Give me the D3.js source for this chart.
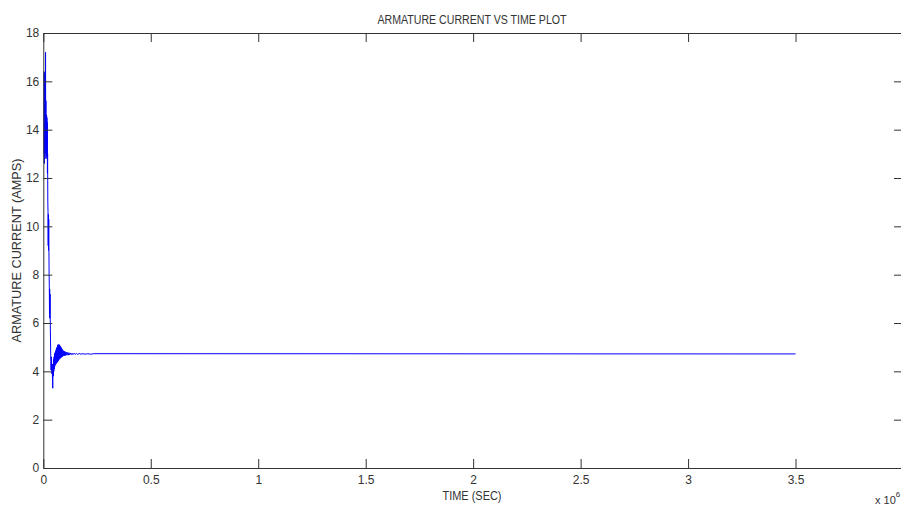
<!DOCTYPE html>
<html>
<head>
<meta charset="utf-8">
<script src="https://cdn.jsdelivr.net/npm/d3@7"></script>
<style>
  body { margin: 0; background: #fff; }
  svg { display: block; }
  text { font-family: "Liberation Sans Narrow", "Liberation Sans", Arial, sans-serif; fill: #333; }
</style>
</head>
<body>
<div id="chart"></div>
<script>
// time in units of 1e6 (as on the x axis), current in amps
const timeVals = [
  0.003, 0.004, 0.0048, 0.0056, 0.0064, 0.0072, 0.008, 0.0088, 0.0096, 0.0105,
  0.0112, 0.012, 0.0128, 0.0136, 0.0144, 0.0152, 0.016, 0.0168, 0.0176, 0.0184,
  0.0192, 0.020, 0.021, 0.022, 0.0228, 0.0236, 0.0244, 0.0252, 0.026, 0.027,
  0.028, 0.0288, 0.0296, 0.0304, 0.0312, 0.032, 0.0335, 0.035, 0.036, 0.038,
  0.040, 0.0415, 0.043, 0.044, 0.0455, 0.047, 0.048, 0.049, 0.050, 0.051,
  0.052, 0.053, 0.054, 0.055, 0.056, 0.057, 0.058, 0.059, 0.060, 0.061,
  0.062, 0.063, 0.064, 0.065, 0.066, 0.067, 0.068, 0.069, 0.070, 0.071,
  0.072, 0.073, 0.074, 0.075, 0.076, 0.077, 0.078, 0.079, 0.080, 0.081,
  0.082, 0.083, 0.084, 0.085, 0.086, 0.087, 0.088, 0.089, 0.090, 0.092,
  0.094, 0.096, 0.098, 0.100, 0.102, 0.104, 0.107, 0.110, 0.113, 0.116,
  0.119, 0.122, 0.126, 0.130, 0.134, 0.138, 0.143, 0.148, 0.154, 0.160,
  0.167, 0.175, 0.185, 0.195, 0.207, 0.22, 0.235, 3.5
]
const currentVals = [
  13.0, 16.4, 12.6, 16.3, 12.8, 16.2, 13.0, 16.0, 13.2, 17.2,
  13.4, 15.2, 12.8, 14.6, 12.9, 14.6, 13.0, 14.5, 13.0, 14.3,
  12.2, 13.0, 11.0, 10.6, 9.2, 10.5, 9.0, 10.3, 9.2, 8.0,
  7.5, 6.4, 7.4, 6.2, 7.2, 6.3, 5.3, 4.4, 4.05, 4.6,
  3.9, 4.3, 3.6, 3.3, 4.3, 3.8, 4.5, 4.0, 4.6, 4.1,
  4.7, 4.2, 4.75, 4.25, 4.8, 4.3, 4.85, 4.3, 4.9, 4.35,
  4.95, 4.35, 5.0, 4.4, 5.05, 4.4, 5.1, 4.45, 5.1, 4.45,
  5.1, 4.5, 5.1, 4.5, 5.08, 4.52, 5.05, 4.55, 5.02, 4.55,
  5.0, 4.58, 4.96, 4.6, 4.93, 4.6, 4.9, 4.62, 4.88, 4.63,
  4.85, 4.64, 4.83, 4.65, 4.81, 4.66, 4.79, 4.67, 4.78, 4.67,
  4.77, 4.68, 4.76, 4.69, 4.75, 4.69, 4.75, 4.70, 4.74, 4.70,
  4.74, 4.71, 4.73, 4.71, 4.73, 4.71, 4.73, 4.72
]
const xTicks = [0, 0.5, 1, 1.5, 2, 2.5, 3, 3.5, 4]
const yTicks = [0, 2, 4, 6, 8, 10, 12, 14, 16, 18]

const width = 901
const height = 508
const plotLeft = 43.3, plotRight = 903, plotTop = 33, plotBottom = 468

const data = timeVals.map((t, i) => ({ t: t, v: currentVals[i] }))

const x = d3.scaleLinear().domain([0, 4]).range([plotLeft, plotRight])
const y = d3.scaleLinear().domain([0, 18]).range([plotBottom, plotTop])

const svg = d3.select("#chart").append("svg")
    .attr("width", width)
    .attr("height", height)

// data line
svg.append("path")
    .datum(data)
    .attr("fill", "none")
    .attr("stroke", "#0000ff")
    .attr("stroke-width", 1)
    .attr("d", d3.line().x(d => x(d.t)).y(d => y(d.v)))

const tickLen = 9

// bottom axis
svg.append("g")
    .attr("transform", `translate(0,${plotBottom})`)
    .call(d3.axisBottom(x).tickValues(xTicks).tickSizeInner(-tickLen).tickSizeOuter(0).tickPadding(7)
        .tickFormat(d => d === 4 ? "" : d))
// top axis (ticks only)
svg.append("g")
    .attr("transform", `translate(0,${plotTop})`)
    .call(d3.axisTop(x).tickValues(xTicks).tickSizeInner(-tickLen).tickSizeOuter(0).tickFormat(""))
// left axis
svg.append("g")
    .attr("transform", `translate(${plotLeft},0)`)
    .call(d3.axisLeft(y).tickValues(yTicks).tickSizeInner(-tickLen).tickSizeOuter(0).tickPadding(4))
// right axis (ticks only)
svg.append("g")
    .attr("transform", `translate(${plotRight},0)`)
    .call(d3.axisRight(y).tickValues(yTicks).tickSizeInner(-tickLen).tickSizeOuter(0).tickFormat(""))

svg.selectAll(".domain, .tick line").attr("stroke", "#333")
svg.selectAll(".tick text").attr("font-size", 12).attr("fill", "#333")
    .style("font-family", '"Liberation Sans Narrow", "Liberation Sans", Arial, sans-serif')

svg.append("text")
    .attr("x", 472)
    .attr("y", 24)
    .attr("text-anchor", "middle")
    .attr("font-size", 12)
    .attr("textLength", 189)
    .attr("lengthAdjust", "spacingAndGlyphs")
    .text("ARMATURE CURRENT VS TIME PLOT")

svg.append("text")
    .attr("x", 472)
    .attr("y", 500)
    .attr("text-anchor", "middle")
    .attr("font-size", 12)
    .attr("textLength", 59)
    .attr("lengthAdjust", "spacingAndGlyphs")
    .text("TIME (SEC)")

svg.append("text")
    .attr("transform", `translate(21,${(plotTop + plotBottom) / 2}) rotate(-90)`)
    .attr("text-anchor", "middle")
    .attr("font-size", 13)
    .attr("textLength", 184)
    .attr("lengthAdjust", "spacingAndGlyphs")
    .text("ARMATURE CURRENT (AMPS)")

const expo = svg.append("text")
    .attr("x", 875)
    .attr("y", 504)
    .attr("font-size", 11)
expo.append("tspan").text("x 10")
expo.append("tspan").attr("dy", -7).attr("font-size", 8).text("6")
</script>
</body>
</html>
